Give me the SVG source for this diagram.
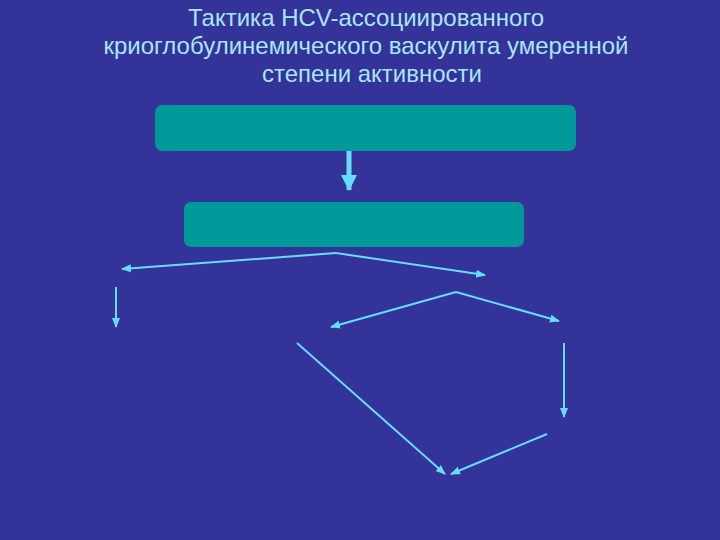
<svg xmlns="http://www.w3.org/2000/svg" width="720" height="540" viewBox="0 0 720 540">
<style>
.title{font-family:"Liberation Sans",Arial,sans-serif;font-size:24px;fill:#a8e6f5;text-anchor:middle}
.box{fill:#009999;stroke:none}
.conn{fill:none;stroke:#66ddff;stroke-width:2}
.thick{fill:none;stroke:#66ddff;stroke-width:5}
</style>
<defs>
<marker id="ah" markerUnits="userSpaceOnUse" markerWidth="10" markerHeight="10" viewBox="0 0 10 10" refX="9" refY="5" orient="auto">
<path d="M0,1 L10,5 L0,9 Z" fill="#66ddff"/>
</marker>
<marker id="ahb" markerUnits="userSpaceOnUse" markerWidth="16" markerHeight="16" viewBox="0 0 16 16" refX="15" refY="8" orient="auto">
<path d="M0,0 L16,8 L0,16 Z" fill="#66ddff"/>
</marker>
</defs>
<rect width="720" height="540" fill="#333399"/>
<g id="title">
<text class="title" x="366" y="26">Тактика HCV-ассоциированного</text>
<text class="title" x="366" y="54">криоглобулинемического васкулита умеренной</text>
<text class="title" x="372" y="82">степени активности</text>
</g>
<g id="node1"><rect class="box" x="155" y="105" width="421" height="46" rx="7"/></g>
<g id="node2"><rect class="box" x="184" y="202" width="340" height="45" rx="7"/></g>
<g id="connectors">
<line class="thick" x1="349" y1="151" x2="349" y2="190" marker-end="url(#ahb)"/>
<path class="conn" d="M336,253 L122,269" marker-end="url(#ah)"/>
<path class="conn" d="M336,253 L485,275" marker-end="url(#ah)"/>
<line class="conn" x1="116" y1="287" x2="116" y2="327" marker-end="url(#ah)"/>
<path class="conn" d="M456,292 L331,327" marker-end="url(#ah)"/>
<path class="conn" d="M456,292 L559,321" marker-end="url(#ah)"/>
<line class="conn" x1="297" y1="343" x2="445" y2="474" marker-end="url(#ah)"/>
<line class="conn" x1="564" y1="343" x2="564" y2="417" marker-end="url(#ah)"/>
<line class="conn" x1="547" y1="434" x2="451" y2="474" marker-end="url(#ah)"/>
</g>
</svg>
